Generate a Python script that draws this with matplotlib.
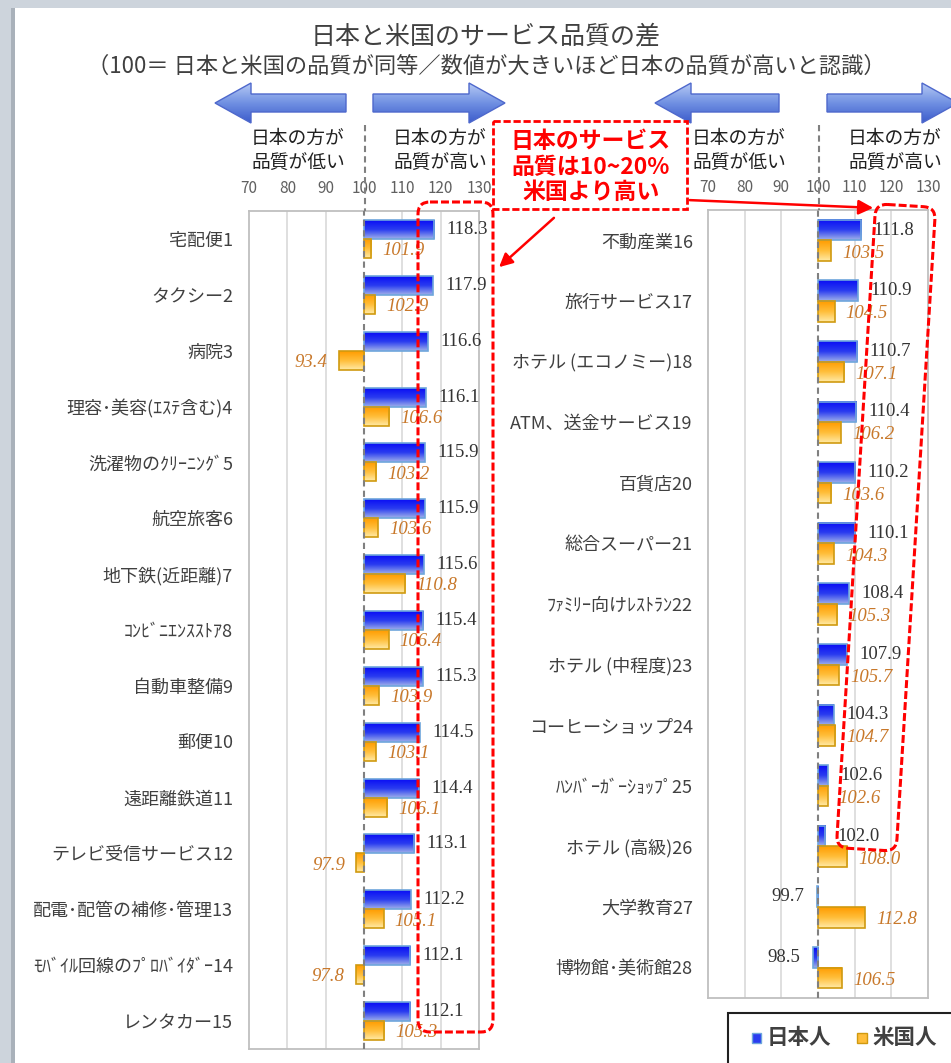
import numpy as np
import matplotlib
matplotlib.use('Agg')
import matplotlib.pyplot as plt
from matplotlib.colors import LinearSegmentedColormap
from matplotlib.patches import Rectangle, FancyBboxPatch, Polygon, FancyArrowPatch
from matplotlib.transforms import Affine2D

plt.rcParams['font.family'] = ['Noto Sans CJK JP', 'DejaVu Sans']

W, H = 951, 1063

# --- data ---
left_labels = ['宅配便1', 'タクシー2', '病院3', '理容･美容(ｴｽﾃ含む)4', '洗濯物のｸﾘｰﾆﾝｸﾞ5',
               '航空旅客6', '地下鉄(近距離)7', 'ｺﾝﾋﾞﾆｴﾝｽｽﾄｱ8', '自動車整備9', '郵便10',
               '遠距離鉄道11', 'テレビ受信サービス12', '配電･配管の補修･管理13',
               'ﾓﾊﾞｲﾙ回線のﾌﾟﾛﾊﾞｲﾀﾞｰ14', 'レンタカー15']
left_jp = [118.3, 117.9, 116.6, 116.1, 115.9, 115.9, 115.6, 115.4, 115.3, 114.5,
           114.4, 113.1, 112.2, 112.1, 112.1]
left_us = [101.9, 102.9, 93.4, 106.6, 103.2, 103.6, 110.8, 106.4, 103.9, 103.1,
           106.1, 97.9, 105.1, 97.8, 105.3]

right_labels = ['不動産業16', '旅行サービス17', 'ホテル (エコノミー)18', 'ATM、送金サービス19',
                '百貨店20', '総合スーパー21', 'ﾌｧﾐﾘｰ向けﾚｽﾄﾗﾝ22', 'ホテル (中程度)23',
                'コーヒーショップ24', 'ﾊﾝﾊﾞｰｶﾞｰｼｮｯﾌﾟ25', 'ホテル (高級)26', '大学教育27',
                '博物館･美術館28']
right_jp = [111.8, 110.9, 110.7, 110.4, 110.2, 110.1, 108.4, 107.9, 104.3, 102.6,
            102.0, 99.7, 98.5]
right_us = [103.5, 104.5, 107.1, 106.2, 103.6, 104.3, 105.3, 105.7, 104.7, 102.6,
            108.0, 112.8, 106.5]

ticks = [70, 80, 90, 100, 110, 120, 130]
series_names = ['日本人', '米国人']

title = '日本と米国のサービス品質の差'
subtitle = '（100＝ 日本と米国の品質が同等／数値が大きいほど日本の品質が高いと認識）'
side_low = '日本の方が\n品質が低い'
side_high = '日本の方が\n品質が高い'
callout = '日本のサービス\n品質は10~20%\n米国より高い'

# --- styles ---
blue_cmap = LinearSegmentedColormap.from_list('jp', ['#0a0ef5', '#2a3cf0', '#9fb0ea'])
orange_cmap = LinearSegmentedColormap.from_list('us', ['#ff9c00', '#ffbe3a', '#ffeaa6'])
arrow_cmap = LinearSegmentedColormap.from_list('arr', ['#b4c8f4', '#7090e2', '#3c5ccc'])
grad = np.linspace(0, 1, 64).reshape(-1, 1)
txt_gray = '#404040'

fig = plt.figure(figsize=(W / 100, H / 100), dpi=100)
fig.patch.set_facecolor('white')


def px_axes(x0, y0, x1, y1, **kw):
    return fig.add_axes([x0 / W, 1 - y1 / H, (x1 - x0) / W, (y1 - y0) / H], **kw)


def grad_bar(ax, yc, v, h, cmap, edge):
    top, bot = yc - h / 2, yc + h / 2
    ax.imshow(grad, cmap=cmap, extent=[100, v, bot, top], origin='upper',
              aspect='auto', interpolation='bilinear', zorder=3)
    ax.barh(yc, v - 100, left=100, height=h, fill=False, edgecolor=edge, lw=1.2, zorder=4)


def value_label(ax, v, yc, color, style, off):
    ha = 'left' if v >= 100 else 'right'
    ax.annotate(f'{v:.1f}', (v, yc), xytext=(off if v >= 100 else -off, 0),
                textcoords='offset points', ha=ha, va='center', fontsize=13.5,
                family='Liberation Serif', style=style, color=color, zorder=6)


def panel(ax, labels, jp, us, pad):
    n = len(labels)
    ys = np.arange(n)
    h = 0.34
    for i in range(n):
        grad_bar(ax, ys[i] - h / 2, jp[i], h, blue_cmap, '#6ea6dc')
        grad_bar(ax, ys[i] + h / 2, us[i], h, orange_cmap, '#d09a10')
        value_label(ax, jp[i], ys[i] - h / 2, '#333333', 'normal', 9)
        value_label(ax, us[i], ys[i] + h / 2 + 0.04, '#c8782a', 'italic', 8)
    for x in [80, 90, 110, 120]:
        ax.axvline(x, color='#d9d9d9', lw=1.2, zorder=1)
    ax.axvline(100, color='#808080', ls=(0, (3, 2)), lw=1.5, zorder=5)
    ax.set_xlim(70, 130)
    ax.set_ylim(n - 0.5, -0.5)
    ax.set_xticks(ticks)
    ax.xaxis.tick_top()
    ax.tick_params(axis='x', length=0, pad=10, labelsize=11, labelcolor='#606060')
    ax.set_yticks(ys)
    ax.set_yticklabels(labels, fontsize=13, color=txt_gray)
    ax.tick_params(axis='y', length=0, pad=pad)
    for s in ax.spines.values():
        s.set_color('#bfbfbf')
        s.set_linewidth(1.3)


ax_l = px_axes(249, 211, 479, 1049)
panel(ax_l, left_labels, left_jp, left_us, 11.5)
ax_r = px_axes(708, 210, 928, 998)
panel(ax_r, right_labels, right_jp, right_us, 11)

# --- overlay in pixel coordinates ---
ov = fig.add_axes([0, 0, 1, 1], zorder=10)
ov.axis('off')

# screenshot shadow strips
ov.add_patch(Rectangle((0, 0), 15, H, color='#cdd4dc', lw=0))
ov.add_patch(Rectangle((11, 8), 4, H, color='#a9b1ba', lw=0))
ov.add_patch(Rectangle((0, 0), W, 8, color='#cdd4dc', lw=0))

ov.text(486, 36, title, ha='center', va='center', fontsize=18, color=txt_gray)
ov.text(486, 66, subtitle, ha='center', va='center', fontsize=16, color=txt_gray)


def block_arrow(tail, tip, yc=103, body=18, head=40, head_len=36):
    d = 1 if tip > tail else -1
    base = tip - d * head_len
    pts = [(tail, yc - body / 2), (base, yc - body / 2), (base, yc - head / 2), (tip, yc),
           (base, yc + head / 2), (base, yc + body / 2), (tail, yc + body / 2)]
    poly = Polygon(pts, closed=True, facecolor='none', edgecolor='#4e68cc', lw=1.0, zorder=3)
    ov.add_patch(poly)
    im = ov.imshow(grad, cmap=arrow_cmap, extent=[min(tail, tip), max(tail, tip), yc + head / 2, yc - head / 2],
                   origin='upper', aspect='auto', interpolation='bilinear', zorder=2)
    im.set_clip_path(poly)


block_arrow(346, 215)
block_arrow(373, 505)
block_arrow(779, 655)
block_arrow(827, 958)

for cx in (298, 739):
    ov.text(cx, 150, side_low, ha='center', va='center', fontsize=13.5, color='#202020', linespacing=1.2)
for cx in (440, 895):
    ov.text(cx, 150, side_high, ha='center', va='center', fontsize=13.5, color='#202020', linespacing=1.2)

# dashed 100 line above the plot frames
ov.plot([365, 365], [125, 211], color='#808080', ls=(0, (3, 2)), lw=1.5)
ov.plot([819, 819], [125, 210], color='#808080', ls=(0, (3, 2)), lw=1.5)

# red callout
red = '#ff0000'
dash = (0, (2.6, 1.0))
ov.add_patch(Rectangle((493, 121), 194, 88, facecolor='white', edgecolor=red, lw=2, ls=dash, zorder=4))
ov.text(591, 167, callout, ha='center', va='center', fontsize=16.5, fontweight='bold', color=red,
        linespacing=1.15, zorder=5)

ov.add_patch(FancyBboxPatch((418, 202), 75, 830, boxstyle='round,pad=0,rounding_size=12',
                            facecolor='none', edgecolor=red, lw=2.2, ls=dash, zorder=4))
rot = Affine2D().rotate_deg_around(886, 527, 3.5) + ov.transData
ov.add_patch(FancyBboxPatch((856, 205), 60, 645, boxstyle='round,pad=0,rounding_size=12',
                            facecolor='none', edgecolor=red, lw=2.2, ls=dash, zorder=4, transform=rot))

ov.add_patch(FancyArrowPatch((687, 200), (876, 208), arrowstyle='-|>', mutation_scale=22,
                             color=red, lw=1.8, zorder=5))
ov.add_patch(FancyArrowPatch((556, 216), (497, 269), arrowstyle='-|>', mutation_scale=20,
                             color=red, lw=1.8, zorder=5))

# legend
ov.add_patch(Rectangle((728, 1013), 240, 60, facecolor='white', edgecolor='#202020', lw=1.5, zorder=4))
ov.add_patch(Rectangle((752, 1033), 9, 10, facecolor='#2a3cf0', edgecolor='#6ea6dc', lw=1, zorder=5))
ov.text(767, 1038, series_names[0], ha='left', va='center', fontsize=15.5, fontweight='bold',
        color=txt_gray, zorder=5)
ov.add_patch(Rectangle((857, 1033), 10, 10, facecolor='#ffbe3a', edgecolor='#d09a10', lw=1, zorder=5))
ov.text(872, 1038, series_names[1], ha='left', va='center', fontsize=15.5, fontweight='bold',
        color=txt_gray, zorder=5)

ov.set_xlim(0, W)
ov.set_ylim(H, 0)

fig.savefig('out.png', dpi=100, facecolor='white')
